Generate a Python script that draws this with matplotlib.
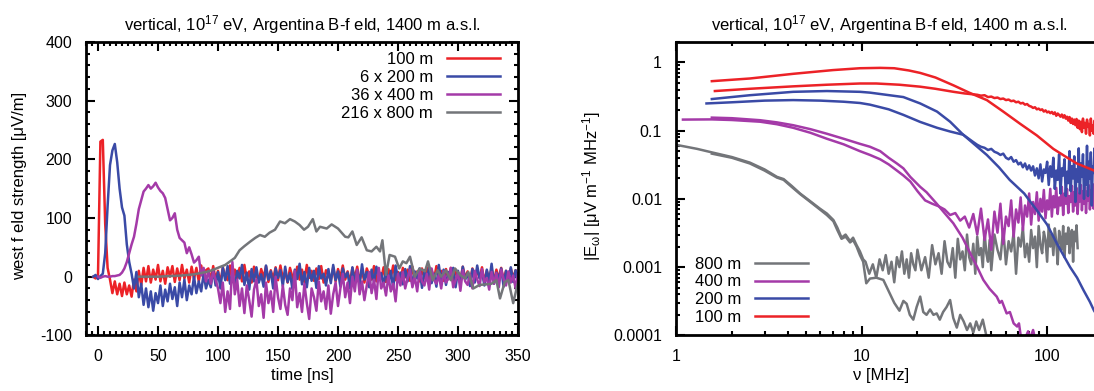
import numpy as np
import matplotlib
matplotlib.use("Agg")
import matplotlib.pyplot as plt
from matplotlib.ticker import MultipleLocator, LogLocator, NullFormatter, FuncFormatter
from matplotlib.lines import Line2D

plt.rcParams['font.family'] = ['Liberation Sans', 'DejaVu Sans']
plt.rcParams['mathtext.default'] = 'regular'
plt.rcParams['font.size'] = 12
plt.rcParams['axes.unicode_minus'] = False

TITLE = "vertical, 10$^{17}$ eV, Argentina B-f eld, 1400 m a.s.l."
C_RED, C_BLUE, C_PURPLE, C_GRAY = '#ec2227', '#3a4aa6', '#a43aa8', '#737579'

# ---------------- left panel: time traces ----------------
t_red = np.arange(-4, 351, 2)
red_100m = [0, -3, 2, 230, 233, 90, 15, -5, -28, -8, -30, -12, -33, -10, -30, -15, -34, -5, -25, 10,
            -15, 15, -8, 18, -10, 12, -5, 20, -8, 10, -12, 16, 0, 18, -9, 14, -6, 20, -3, 12,
            -10, 17, -4, 15, -8, 19, -2, 11,
            14, -7, 18, -4, 10, -11, 16, 2, -6, 19, -9, 12, -3, 15, -8, 20, -5, 9, -10, 17, 1, -7, 13, -2, 18, -9, 11, -4, 16, -6,
            19, -3, 8, -10, 15, 0, -8, 17, -5, 12, -9, 20, -2, 10, -7, 14, -4, 18, -10, 11, 3, -6, 16, -8, 13, -1, 19, -5, 9, -9,
            15, -3, 17, -7, 11, -10, 14, 2, -5, 18, -8, 10, -4, 16, -9, 13, -2, 19, -6, 8, -10, 15, -1, 12, -7, 17, -4, 9, -8, 14,
            -3, 16, -9, 11, -5, 18, -2, 10, -7, 13, -4, 15, -10, 12, 0, -6, 17, -3, 9, -8, 14, -5, 11, -2, 16, -9, 10, -4, 13, -7,
            12, -3, 15, -6, 10, -8, 14, -2, 11, -5]

t_blue = np.arange(-4, 351, 2)
blue_200m = [0, 3, -4, 1, 5, 40, 120, 190, 215, 226, 195, 150, 118, 104, 55, 25, 5, -20, 8, -35,
             -12, -48, -20, -52, -25, -58, -28, -45, -15, -50, -22, -42, -12, -38, -18, -50, -10, -35, -5, -40,
             -15, -30, 0, -28, -8, -25, 5, -20, -5, -18,
             12, -15, 8, -20, 15, -6, 18, -12, 5, -18, 10, -3, 20, -14, 7, -22, 13, -8, 16, -10, 4, -17, 19, -5, 9, -20, 14, -2, 11, -16,
             17, -9, 6, -21, 12, -4, 22, -13, 8, -18, 15, -7, 10, -19, 18, -3, 5, -15, 13, -11, 20, -6, 9, -17, 14, -1, 7, -20, 16, -10,
             11, -14, 21, -5, 8, -18, 12, -9, 17, -2, 6, -16, 15, -12, 10, -20, 19, -4, 7, -13, 13, -8, 18, -15, 9, -3, 14, -19, 11, -6,
             16, -11, 5, -17, 20, -7, 12, -14, 8, -2, 15, -18, 10, -9, 17, -5, 6, -16, 13, -10, 19, -3, 9, -15, 12, -8, 22, -12, 7, -4,
             14, -17, 10, -6, 16, -9, 11, -13]

t_purple = np.arange(0, 351, 2)
purple_400m = [0, -2, 0, 1, 0, 0, 1, 1, 2, 3, 7, 14, 25, 40, 55, 68, 90, 115, 130, 145,
               150, 156, 150, 154, 160, 152, 146, 142, 134, 115, 96, 100, 108, 80, 66, 62, 58, 40, 50, 38,
               24, 28, 34, 2, 15, -8, 10, -12, 8, -5, -20,
               -45, -10, -60, -25, -55, 25, -30, -5, -50, -20, -62, -15, -40, -68, -22, -5, -50, -30, -70, -10, -45, -25, -60, 0, -35, -55, -15, -48, -65, -20,
               -40, 10, -52, -28, -60, -12, -45, -72, -20, -35, -58, -8, -42, -25, -55, -15, -63, -30, -10, -50,
               -20, 5, -35, -10, -45, 0, -25, 12, -30, -8, -40, -15, 8, -28, -5, -38, 15, -20, -10, -32, 2, -25, -12, -42, 5,
               -15, 8, -20, -2, 12, -18, 0, -25, 10, -8, -15, 5, -22, 14, -5, -12, 3, -20, 9, -10, -3, 15, -18, -6, 7, -24, 11, -8, -14, 4,
               -20, 10, -5, -16, 13, -9, -2, -22, 8, -12, 6, -18, 12, -4, -15, 9, -10, 2, -20, 5]

t_gray = [34, 40, 50, 60, 70, 80, 90, 95, 101, 106, 110, 114, 118, 122, 127, 131, 135, 139, 143, 147.5,
          151.7, 155.8, 160, 164, 168, 171.7, 175, 179, 182, 185, 190.6, 194.7, 200, 206, 208.6, 212, 215.6, 219.7, 224, 228,
          232, 235, 237, 240, 243, 247.5, 251, 254, 257, 260, 264, 268, 272.5, 275, 279, 283, 286, 290, 294, 297.5,
          301.7, 306, 308.6, 312.8, 318, 324, 328, 332, 335, 339, 342, 346, 350]
gray_800m = [0, 0, 0, 1, 2, 4, 8, 11, 16, 20, 26, 32, 45, 52, 60, 66, 71, 68, 75, 80,
             94, 91, 98, 94, 88, 80, 85, 98, 77, 85, 82, 89, 82, 68, 67, 77, 54, 67, 45, 43,
             51, 43, 62, 3, 37, 34, 14, 26, 23, 34, 0, 14, 9, 26, -6, 11, 0, 11, -6, 14,
             3, -3, 8, -20, -14, -13, -12, -6, -37, -9, -6, -45, -10]

left_labels = ["100 m", "6 x 200 m", "36 x 400 m", "216 x 800 m"]

# ---------------- right panel: spectra ----------------
f_red_a = [1.56, 2.5, 4.3, 7, 9.8, 12.6, 15, 18, 20.7, 25, 31.3, 38, 47.3, 58, 71.5, 88, 108, 125, 144.5, 179, 200]
red_a = [0.53, 0.58, 0.68, 0.77, 0.82, 0.83, 0.82, 0.76, 0.70, 0.60, 0.46, 0.36, 0.28, 0.19, 0.126, 0.085, 0.054, 0.042, 0.033, 0.026, 0.023]

f_red_b_smooth = [1.62, 2.5, 4.28, 6.5, 9.8, 12, 16, 20.7, 25, 31.3, 36, 40]
red_b_smooth = [0.38, 0.41, 0.445, 0.47, 0.49, 0.49, 0.47, 0.44, 0.41, 0.37, 0.35, 0.34]
f_red_b_noisy = np.arange(42, 201, 2)
red_b_noisy = [.335, .325, .33, .31, .315, .30, .305, .29, .295, .28,
               .285, .27, .275, .26, .265, .25, .255, .24, .245, .23,
               .225, .215, .22, .205, .21, .20, .205, .19, .198, .185,
               .19, .18, .188, .175, .185, .165, .178, .17, .16, .172,
               .155, .168, .15, .16, .14, .158, .13, .15, .125, .145,
               .12, .148, .11, .14, .105, .135, .095, .15, .11, .13,
               .09, .145, .115, .125, .085, .15, .1, .12, .09, .14,
               .105, .13, .088, .15, .11, .125, .095, .14, .1, .13]

f_blue_a = [1.56, 2.5, 4.28, 6.5, 9.8, 11.1, 13, 16.8, 20.7, 25.5, 30, 35.3, 40, 47.3, 55, 62.8, 75.2, 88, 100, 113,
            133, 145, 157, 170, 179, 190, 200]
blue_a = [0.29, 0.33, 0.37, 0.38, 0.37, 0.36, 0.34, 0.31, 0.25, 0.19, 0.135, 0.087, 0.065, 0.044, 0.029, 0.019, 0.012,
          0.0068, 0.0042, 0.0022, 0.001, 0.0007, 0.00046, 0.00031, 0.00023, 0.00018, 0.00014]

f_blue_b_smooth = [1.46, 2, 3, 4.28, 6, 8, 9.8, 11.1, 14, 16.8, 20.7, 25.5, 30, 35.3, 40]
blue_b_smooth = [0.25, 0.26, 0.275, 0.28, 0.275, 0.265, 0.254, 0.24, 0.205, 0.17, 0.134, 0.11, 0.097, 0.087, 0.068]
f_blue_b_noisy = np.arange(42, 201, 2)
blue_b_noisy = [.062, .058, .056, .052, .054, .049, .047, .044, .046, .040,
                .038, .041, .035, .037, .032, .034, .029, .033, .027, .031,
                .026, .03, .022, .028, .02, .032, .018, .027, .024, .035,
                .016, .03, .021, .04, .014, .026, .019, .045, .012, .028,
                .022, .038, .011, .025, .017, .05, .013, .03, .02, .042,
                .009, .027, .018, .055, .012, .033, .021, .045, .01, .029,
                .016, .06, .011, .035, .02, .048, .008, .03, .024, .055,
                .013, .038, .018, .05, .01, .032, .022, .058, .012, .04]

f_purple_a = [1.56, 2.0, 2.84, 3.5, 4.28, 5.3, 6.5, 8, 9.8, 11.1, 12.6, 14, 15.5, 16.8, 18.3, 20.7, 22.4, 25.4, 28, 31.2,
              35, 38.5, 42, 45.3, 49, 53.5, 55.5, 57, 60.5, 63, 66, 68.9, 70.5, 72, 76, 79, 81, 84, 86, 90]
purple_a = [0.155, 0.152, 0.142, 0.132, 0.12, 0.105, 0.09, 0.076, 0.064, 0.058, 0.05, 0.04, 0.033, 0.028, 0.021, 0.015,
            0.0125, 0.0085, 0.0062, 0.0044, 0.0027, 0.0016, 0.001, 0.00065, 0.00048, 0.00037, 0.0003, 0.00032, 0.00021,
            0.00022, 0.00015, 0.000135, 0.00015, 0.0001, 0.00009, 0.000115, 0.00009, 0.00012, 0.00009, 0.00006]

f_purple_b_smooth = [1.09, 1.56, 2.0, 2.84, 3.5, 4.28, 5.3, 6.5, 8, 9.8, 11.1, 12.6, 14, 15.5, 16.8, 18.3, 20]
purple_b_smooth = [0.145, 0.146, 0.143, 0.135, 0.124, 0.11, 0.093, 0.076, 0.063, 0.05, 0.044, 0.038, 0.032, 0.026,
                   0.022, 0.018, 0.013]
f_purple_b_noisy = np.arange(22, 201, 2)
purple_b_noisy = [.0095, .0085, .0078, .0070, .0058, .0062, .0048, .0055, .0038, .0060,
                  .0030, .0072, .0025, .0050, .0018, .0065, .0032, .0085, .0022, .0055,
                  .0040, .0095, .0028, .0070, .0045, .0105, .0035, .0080, .0055, .012,
                  .0042, .0090, .0060, .0125, .0048, .0100, .0065, .0135, .0052, .0095,
                  .0070, .014, .0055, .011, .0075, .0145, .0060, .0105, .0080, .015,
                  .0058, .012, .0085, .0140, .0062, .0110, .0090, .0155, .0065, .0125,
                  .0080, .0145, .0060, .0118, .0092, .0160, .0068, .0130, .0085, .0150,
                  .0062, .0128, .0095, .0158, .0070, .0135, .0088, .0165, .0072, .0140,
                  .0090, .0160, .0068, .0130, .0095, .0170, .0075, .0145, .0088, .0162]

f_gray_a_smooth = [1, 1.3, 1.56, 2, 2.5, 3, 3.5, 3.8, 4.2, 4.66, 5.3, 5.96, 6.5, 7.05, 7.4, 7.8, 8.2, 8.67, 9.0, 9.4, 9.8, 10.2]
gray_a_smooth = [0.062, 0.054, 0.048, 0.041, 0.034, 0.027, 0.021, 0.0195, 0.0155, 0.012, 0.0092, 0.0072, 0.0061, 0.0049,
                 0.0038, 0.0027, 0.0030, 0.0024, 0.0027, 0.0021, 0.0017, 0.0013]
f_gray_a_noisy = np.concatenate([np.arange(10.5, 20, 0.5), np.arange(20, 50, 1), np.arange(50, 147, 2)])
gray_a_noisy = [.0012, .0008, .0011, .0007, .0013, .0009, .0015, .0008, .0012, .0006, .0014, .0010, .0017, .0008, .0013,
                .0007, .0016, .0011, .0009,
                .0018, .0009, .0014, .0007, .0021, .0011, .0016, .0008, .0024, .0012, .0010, .0019, .0007, .0026, .0013,
                .0017, .0009, .0030, .0014, .0011, .0022, .0008, .0028, .0015, .0019, .0010, .0033, .0016, .0012, .0025,
                .0009, .0030, .0018, .0013, .0036, .0011, .0024, .0017, .0032, .0008, .0027, .0020, .0038, .0014, .0022,
                .0012, .0035, .0019, .0028, .0010, .0040, .0021, .0016, .0033, .0025, .0012, .0042, .0020, .0030, .0015,
                .0037, .0023, .0011, .0034, .0026, .0018, .0040, .0014, .0031, .0022, .0038, .0016, .0029, .0035, .0012,
                .0033, .0024, .0041, .0019]

f_gray_b = [1.56, 2, 2.5, 3, 3.5, 3.8, 4.2, 4.66, 5.3, 5.96, 6.5, 7.05, 7.4, 7.8, 8.2, 8.67, 9.0, 9.4, 9.8, 10.2, 10.6,
            11.1, 12, 13.1, 14.2, 15, 16, 16.8, 17.5, 18.2, 19, 19.8, 20.7, 21.5, 22.4, 23.4, 24.4, 25.4, 26.4, 27.5,
            28.7, 30, 31.2, 32.6, 34, 35.5, 37, 38.5, 40, 41.5, 43, 45, 47, 49]
gray_b = [0.046, 0.040, 0.033, 0.026, 0.0205, 0.019, 0.015, 0.0118, 0.009, 0.0070, 0.0058, 0.0047, 0.0035, 0.0026, 0.0028,
          0.0023, 0.0025, 0.002, 0.0015, 0.0012, 0.00058,
          0.00068, 0.0007, 0.00065, 0.00041, 0.0003, 0.00023, 0.00032, 0.00029, 0.0002, 0.00017, 0.00026, 0.00037, 0.00022,
          0.0002, 0.00024, 0.0002, 0.00021, 0.00017, 0.00022, 0.00026, 0.00033, 0.00018, 0.00013, 0.0002, 0.00016, 0.00012,
          0.00015, 0.00011, 0.00016, 0.00012, 0.00017, 0.0001, 0.00008]

right_labels = ["800 m", "400 m", "200 m", "100 m"]

# ---------------- figure ----------------
W, H = 1094, 391
fig = plt.figure(figsize=(W / 100, H / 100), dpi=100)
ax1 = fig.add_axes([86 / W, (H - 335.4) / H, 432 / W, 293.6 / H])
ax2 = fig.add_axes([676 / W, (H - 335.4) / H, 427 / W, 293.6 / H])

LW = 1.8
FS = 12
for ax in (ax1, ax2):
    for s in ax.spines.values():
        s.set_linewidth(2.0)
    ax.tick_params(which='both', direction='in', top=True, right=True, width=1.5, pad=10, labelsize=11.5)
    ax.tick_params(which='major', length=6.5)
    ax.tick_params(which='minor', length=3.2)

# left
ax1.plot(t_red, red_100m, color=C_RED, lw=LW, label=left_labels[0])
ax1.plot(t_blue, blue_200m, color=C_BLUE, lw=LW, label=left_labels[1])
ax1.plot(t_purple, purple_400m, color=C_PURPLE, lw=LW, label=left_labels[2])
ax1.plot(t_gray, gray_800m, color=C_GRAY, lw=LW, label=left_labels[3])
ax1.set_xlim(-10, 350)
ax1.set_ylim(-100, 400)
ax1.xaxis.set_major_locator(MultipleLocator(50))
ax1.xaxis.set_minor_locator(MultipleLocator(5))
ax1.yaxis.set_major_locator(MultipleLocator(100))
ax1.yaxis.set_minor_locator(MultipleLocator(20))
ax1.set_xlabel("time [ns]", fontsize=FS)
ax1.xaxis.set_label_coords(0.5, -0.11)
ax1.set_ylabel("west f eld strength [μV/m]", fontsize=FS)
ax1.yaxis.set_label_coords(-0.137, 0.51)
ax1.text(0.5, 1.04, TITLE, transform=ax1.transAxes, ha='center', va='baseline', fontsize=FS)
ax1.legend(loc='upper right', bbox_to_anchor=(0.958, 0.965), frameon=False, markerfirst=False,
           handlelength=3.2, handletextpad=0.8, labelspacing=0.17, borderpad=0, borderaxespad=0,
           fontsize=FS)

# right
ax2.set_xscale('log')
ax2.set_yscale('log')
ax2.plot(f_gray_a_smooth + list(f_gray_a_noisy), gray_a_smooth + gray_a_noisy, color=C_GRAY, lw=LW)
ax2.plot(f_gray_b, gray_b, color=C_GRAY, lw=LW)
ax2.plot(f_purple_a, purple_a, color=C_PURPLE, lw=LW)
ax2.plot(f_purple_b_smooth + list(f_purple_b_noisy), purple_b_smooth + purple_b_noisy, color=C_PURPLE, lw=LW)
ax2.plot(f_blue_a, blue_a, color=C_BLUE, lw=LW)
ax2.plot(f_blue_b_smooth + list(f_blue_b_noisy), blue_b_smooth + blue_b_noisy, color=C_BLUE, lw=LW)
ax2.plot(f_red_a, red_a, color=C_RED, lw=LW)
ax2.plot(f_red_b_smooth + list(f_red_b_noisy), red_b_smooth + red_b_noisy, color=C_RED, lw=LW)
ax2.set_xlim(1, 200)
ax2.set_ylim(1e-4, 2)
ax2.xaxis.set_major_locator(LogLocator(base=10))
ax2.xaxis.set_minor_locator(LogLocator(base=10, subs=np.arange(2, 10)))
ax2.xaxis.set_minor_formatter(NullFormatter())
ax2.xaxis.set_major_formatter(FuncFormatter(lambda v, p: '%g' % v))
ax2.yaxis.set_major_locator(LogLocator(base=10))
ax2.yaxis.set_minor_locator(LogLocator(base=10, subs=np.arange(2, 10)))
ax2.yaxis.set_minor_formatter(NullFormatter())
ax2.yaxis.set_major_formatter(FuncFormatter(lambda v, p: '%g' % v))
ax2.set_xlabel("ν [MHz]", fontsize=FS)
ax2.xaxis.set_label_coords(0.48, -0.11)
ax2.set_ylabel("|E$_ω$| [μV m$^{-1}$ MHz$^{-1}$]", fontsize=FS)
ax2.yaxis.set_label_coords(-0.171, 0.51)
ax2.text(0.5, 1.04, TITLE, transform=ax2.transAxes, ha='center', va='baseline', fontsize=FS)
handles2 = [Line2D([], [], color=c, lw=LW) for c in (C_GRAY, C_PURPLE, C_BLUE, C_RED)]
ax2.legend(handles2, right_labels, loc='lower left', bbox_to_anchor=(0.045, 0.035), frameon=False, markerfirst=False,
           handlelength=3.2, handletextpad=0.8, labelspacing=0.17, borderpad=0, borderaxespad=0, fontsize=FS)

fig.savefig('out.png', dpi=100)
